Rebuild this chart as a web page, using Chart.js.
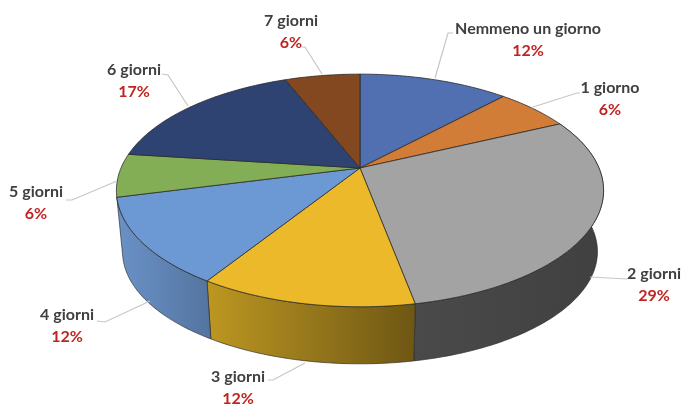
<!DOCTYPE html>
<html>
<head>
<meta charset="utf-8">
<title>Giorni</title>
<script src="https://cdn.jsdelivr.net/npm/chart.js@4"></script>
<style>
  html, body { margin: 0; padding: 0; background: #fff; }
  canvas { display: block; }
</style>
</head>
<body>
<canvas id="pieChart" width="683" height="407"></canvas>
<script>
const categories = ['Nemmeno un giorno', '1 giorno', '2 giorni', '3 giorni', '4 giorni', '5 giorni', '6 giorni', '7 giorni'];
const shares = [12, 6, 29, 12, 12, 6, 17, 6];
const topColors = ['#5170b1', '#d17c37', '#a3a3a3', '#ebb92a', '#6c98d3', '#84ae55', '#2f4372', '#83481f'];
// left and right stops of the rim gradient
const rimColors = [
    ['#4a659f', '#3f5688'], ['#b56a2e', '#9a5a27'], ['#4a4a4a', '#404040'], ['#bd9722', '#6e5714'],
    ['#6a92c8', '#54749f'], ['#6f9347', '#5f7f3d'], ['#27385f', '#1f2d4d'], ['#6e3c1a', '#5a3115']
];

// where each label sits: text centre and its leader line
const labelSpots = [
    { x: 528, y: 29, line: [[435, 78], [448, 33], [453, 33]] },
    { x: 610, y: 88, line: [[533, 107], [577, 93], [580, 93]] },
    { x: 654, y: 274, line: [[590, 277], [627, 279]] },
    { x: 238, y: 377, line: [[305, 363], [273, 380], [268, 380]] },
    { x: 67, y: 315, line: [[150, 301], [105, 322], [97, 321]] },
    { x: 36, y: 192, line: [[117, 181], [72, 200], [66, 200]] },
    { x: 134, y: 70, line: [[188, 106], [168, 75], [162, 74]] },
    { x: 291, y: 21, line: [[322, 74], [305, 47], [302, 47]] }
];

// perspective of the tilted disc
const tilt = 0.193;
const topFace = { cx: 360, cy: 168, a: 239, b: 112 };
const bottomFace = { cx: 360, cy: 230, a: 233, b: 108 };
// slices whose middle lies behind this depth show no rim
const rimDepth = 0.15;

function project(face, angle) {
    const u = Math.cos(angle), v = Math.sin(angle);
    const w = 1 - tilt * v;
    return [face.cx + face.a * u / w, face.cy + face.b * v / w];
}

function arcPoints(face, from, to) {
    const pts = [];
    const steps = Math.max(2, Math.ceil((to - from) / 0.02));
    for (let i = 0; i <= steps; i++) {
        pts.push(project(face, from + (to - from) * i / steps));
    }
    return pts;
}

function tracePath(ctx, pts) {
    ctx.beginPath();
    pts.forEach((p, i) => i ? ctx.lineTo(p[0], p[1]) : ctx.moveTo(p[0], p[1]));
    ctx.closePath();
}

const disc3d = {
    id: 'disc3d',
    // the arcs keep their angles from the pie controller, only the painting is replaced
    beforeDatasetsDraw(chart) {
        const ctx = chart.ctx;
        const arcs = chart.getDatasetMeta(0).data;
        ctx.save();
        ctx.lineJoin = 'round';

        arcs.forEach((arc, i) => {
            if (Math.sin((arc.startAngle + arc.endAngle) / 2) < rimDepth) return;
            const topEdge = arcPoints(topFace, arc.startAngle, arc.endAngle);
            const lowEdge = arcPoints(bottomFace, arc.startAngle, arc.endAngle).reverse();
            const pts = topEdge.concat(lowEdge);
            const xs = pts.map(p => p[0]);
            const grad = ctx.createLinearGradient(Math.min(...xs), 0, Math.max(...xs), 0);
            grad.addColorStop(0, rimColors[i][0]);
            grad.addColorStop(1, rimColors[i][1]);
            tracePath(ctx, pts);
            ctx.fillStyle = grad;
            ctx.fill();
            ctx.strokeStyle = 'rgba(40,40,40,0.8)';
            ctx.lineWidth = 0.8;
            ctx.stroke();
        });

        arcs.forEach((arc, i) => {
            const pts = [[topFace.cx, topFace.cy]].concat(arcPoints(topFace, arc.startAngle, arc.endAngle));
            tracePath(ctx, pts);
            ctx.fillStyle = topColors[i];
            ctx.fill();
            ctx.strokeStyle = 'rgba(40,40,40,0.85)';
            ctx.lineWidth = 0.9;
            ctx.stroke();
        });
        ctx.restore();
        return false;
    },
    afterDraw(chart) {
        const ctx = chart.ctx;
        ctx.save();
        ctx.textAlign = 'center';
        ctx.textBaseline = 'middle';
        labelSpots.forEach((spot, i) => {
            ctx.beginPath();
            spot.line.forEach((p, j) => j ? ctx.lineTo(p[0], p[1]) : ctx.moveTo(p[0], p[1]));
            ctx.strokeStyle = '#c6c6c6';
            ctx.lineWidth = 1.2;
            ctx.stroke();
            ctx.font = 'bold 16px Lato';
            ctx.fillStyle = '#404040';
            ctx.fillText(categories[i], spot.x, spot.y);
            ctx.fillStyle = '#c02420';
            ctx.fillText(shares[i] + '%', spot.x, spot.y + 21.5);
        });
        ctx.restore();
    }
};

new Chart(document.getElementById('pieChart'), {
    type: 'pie',
    data: {
        labels: categories,
        datasets: [{ data: shares, backgroundColor: topColors, borderWidth: 0 }]
    },
    options: {
        responsive: false,
        animation: false,
        plugins: { legend: { display: false }, tooltip: { enabled: false } }
    },
    plugins: [disc3d]
});
</script>
</body>
</html>
